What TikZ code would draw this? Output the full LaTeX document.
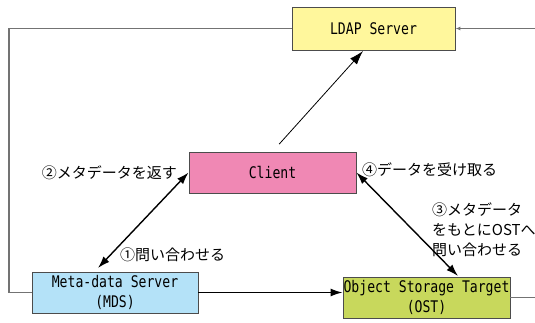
\documentclass[tikz,border=0pt]{standalone}
\usepackage{fontspec}
\newfontfamily\jpfont{Noto Sans CJK JP}
\newfontfamily\boxfont[FakeStretch=0.82]{DejaVu Sans Mono}
\usetikzlibrary{positioning,arrows.meta}

\definecolor{ldapfill}{RGB}{255,247,156}
\definecolor{clientfill}{RGB}{240,136,180}
\definecolor{mdsfill}{RGB}{180,226,248}
\definecolor{ostfill}{RGB}{200,216,92}

\tikzset{
	srvbox/.style={draw=black!70,line width=0.9pt,inner sep=0pt,align=center,
		font=\boxfont\fontsize{16}{20}\selectfont},
	jplabel/.style={inner sep=0pt,font=\jpfont\fontsize{15}{20}\selectfont},
	link/.style={line width=1.4pt,{Latex[length=12pt,width=8pt]}-{Latex[length=12pt,width=8pt]}},
	loopline/.style={draw=black!55,line width=1.3pt}
}

\begin{document}
\begin{tikzpicture}[x=1pt,y=-1pt]
		\useasboundingbox (0,0) rectangle (535,323);
		\node[srvbox,fill=ldapfill,minimum width=163pt,minimum height=43pt] (ldap) at (373.5,28.5) {LDAP Server};
		\node[srvbox,fill=clientfill,minimum width=167pt,minimum height=41pt] (client) at (272.5,172.5) {Client};
		\node[srvbox,fill=mdsfill,minimum width=166pt,minimum height=41pt] (mds) at (115,292.5) {Meta-data Server\\(MDS)};
		\node[srvbox,fill=ostfill,minimum width=167pt,minimum height=41pt] (ost) at (426.5,297.5) {Object Storage Target\\(OST)};
		
		\coordinate (lcorner) at (9,28.5);
		\coordinate (rcorner) at (540,28.5);
		\coordinate (ldaptip) at (363,51);
		\coordinate (mdstip) at (98,268);
		\coordinate (osttip) at (458,276);
		
		\draw[loopline] (mds.west) -| (lcorner) -- (ldap.west);
		\draw[loopline,-{Latex[length=5pt,width=4pt]}] (ost.east) -| (rcorner) -- (ldap.east);
		\draw[line width=0.8pt,-{Latex[length=14pt,width=9pt]},shorten <=10pt] (client.north) -- (ldaptip);
		\draw[link] (client.west) -- (mdstip);
		\draw[link] (client.east) -- (osttip);
		\draw[line width=1.4pt,-{Latex[length=12pt,width=8pt]}] (mds.east) -- (mds.east -| ost.west);
		
		\node[jplabel,anchor=east] (lbl2) at (177,173) {②メタデータを返す};
		\node[jplabel,anchor=west] (lbl1) at (120,255) {①問い合わせる};
		\node[jplabel,anchor=west] (lbl4) at (362,170) {④データを受け取る};
		\node[jplabel,anchor=north west,align=left] (lbl3) at (432,203) {③メタデータ\\をもとにOSTへ\\問い合わせる};
	\end{tikzpicture}
\end{document}
